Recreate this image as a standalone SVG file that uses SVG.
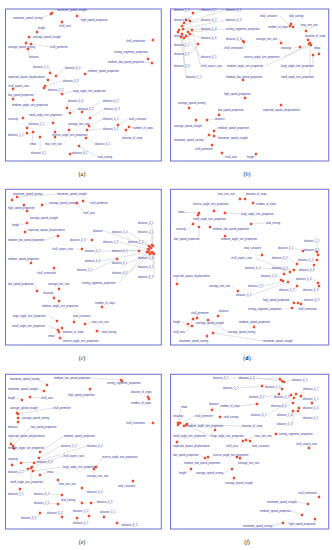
<svg xmlns="http://www.w3.org/2000/svg" width="332" height="550" viewBox="0 0 332 550">
<style>
text{font-family:"Liberation Sans",Arial,sans-serif;font-size:2.6px;fill:#2e2e8f}
circle{r:1.25px;fill:#e4311f;stroke:#f4a07a;stroke-width:.35}
.c path{fill:none;stroke:#bdbdbd;stroke-width:.45}
.frame{fill:#fff;stroke:#6d6dd4;stroke-width:1}
#captions text{font-family:"Liberation Serif",serif;font-size:6px;fill:#222;text-anchor:middle}
</style>
<rect width="332" height="550" fill="#fff"/>
<g id="frames">
<rect class="frame" x="5.5" y="9" width="155.8" height="152"/>
<rect class="frame" x="170.5" y="9" width="158.2" height="152"/>
<rect class="frame" x="5.5" y="189.3" width="155.8" height="155.7"/>
<rect class="frame" x="170.5" y="189.3" width="158.2" height="155.7"/>
<rect class="frame" x="5.5" y="374.3" width="155.8" height="154.7"/>
<rect class="frame" x="170.5" y="374.3" width="158.2" height="154.7"/>
</g>
<g id="connectors" class="c">
<path d="M52 13L56.7 10M51 14L41.7 18M77 16L80.7 20M62 22L62 24.5M37 32L37.7 28.5M29 37L32.7 37M26 43L26 45.5M31 44L49.7 47M28 49L29 55.5M153 40L149.3 41M148 59L148 53.5M152 63L144.8 62M50 73L49.5 67.5M56 76L64.7 68M85 74L87.7 71M48 80L46 77M45 86L62.7 81M13 89L13 87.3M44 88L47.7 90M13 99L13 96.3M62 94L72.7 91M33 100L33 103.7M67 108L68 102.3M82 112L102.7 101M70 113L77.7 109M90 118L103.7 109M53 123L53 116.3M23 118L20.5 119M89 126L102.7 119M118 125L128.7 119M27 128L28.7 124M69 130L69 125.3M87 130L102.7 129M129 127L132.7 128M27 133L24.5 135M55 132L55 133.7M86 138L94.7 144M126 130L126 136.7M33 132L32 142.7M55 137L55 142.7M40 137L40 151.7M70 154L71.7 153M79 146L97.7 157"/>
<path d="M193 13L190.5 10M186 20L200.7 10M190 21L225.7 10M184 23L184 21.3M182 26L200.7 20M183 29L225.7 20M179 30L200.7 29M188 32L225.7 29M178 32L178 34.7M190 34L200.7 38M243 41L243 46.7M244 42L242.5 39M182 34L182 43.7M198 44L190.5 54M186 36L200.7 57M184 38L184 64.7M192 30L200.7 66M181 37L186 75.7M290 26L280.5 16M291 24L291 17.3M291 26L288.5 27M306 31L306 26.3M281 43L279.3 39M308 40L308 37.3M300 47L293.5 48M319 54L319 49.3M309 44L283.3 57M311 45L265.3 66M313 55L313 64.7M310 43L310 75.7M245 98L245 95.3M189 108L189 104.3M219 115L219 111.3M281 105L281 108.7M207 120L214.7 119M196 120L196 124.7M214 131L217.7 128M209 135L202.7 140M214 136L217.7 138M212 145L212 147.7M222 153L224.7 157M256 154L255.3 157"/>
<path d="M12 200L13 195.3M17 197L56.7 194M24 205L24 206.7M42 205L48.7 203M83 201L89.7 203M77 203L83 211.7M27 211L30 216.7M27 223L20.3 225M25 232L27.7 230M58 236L44.8 240M150 247L104.3 231M92 240L86.5 240M149 246L128.5 232M152 245L152 224.3M153 246L153 233.3M148 249L119.5 242M151 248L144.5 242M82 249L76.6 249M149 250L101.5 251M139 251L128.5 251M148 252L101.5 261M150 253L128.5 263M152 252L152 256.7M31 263L31 260.3M54 268L54 271.7M117 259L93.5 270M150 254L128.5 273M153 253L153 265.7M154 254L154 275.7M37 291L35.3 284M59 289L59 285.3M147 252L118.8 283M54 298L54 294.3M59 301L59 304.7M102 307L102 304.3M57 321L49.8 316M74 322L74 317.3M85 324L91.7 322M58 330L48.8 326M62 328L63 330.7M97 331L101.7 332M59 332L53.7 336M60 338L62.7 341"/>
<path d="M240 199L235.9 194.5M245 199L246 195.3M253 203L255.7 204M214 211L214 205.3M199 213L183.7 212M225 213L240.7 214M198 215L198 217.7M251 224L265.7 223M193 224L188.5 229M210 227L212.7 229M199 227L199 237.7M225 236L225 237.7M317 252L317 242.3M303 251L294.5 248M318 255L318 251.3M262 255L262 249.3M290 272L255.5 258M297 264L288.5 258M317 260L314.5 260M294 270L261.5 268M284 274L284 269.3M314 265L314 268.7M177 284L177 277.3M281 280L277.5 276M238 291L232.3 286M283 281L264.5 286M318 283L312.5 279M297 286L295.3 290M319 286L319 288.7M288 282L252.5 295M294 303L291.7 300M298 303L303.7 300M292 308L284.8 309M301 304L301 307.7M197 318L197 314.3M218 316L219 312.3M188 324L181.3 322M192 326L195.7 323M193 319L186.8 332M254 327L254 323.3M208 320L227.7 332M207 336L207 339.7M213 333L262.7 341"/>
<path d="M47 385L38.7 379M121 380L90.8 378M122 381L122 381.7M44 391L38 389M90 389L90 393.7M148 397L148 393.3M149 399L149 401.7M22 400L16.3 398M30 397L40.7 398M17 413L17 409.3M18 414L52.7 408M18 418L21.7 418M18 422L18 425.7M153 423L149.3 423M13 446L30.7 427M11 444L11 437.3M40 452L63.7 436M39 458L60.7 446M34 463L86.7 446M32 467L62.7 456M96 467L102 458.3M12 465L12 460.3M21 463L36.7 462M28 469L24.5 472M33 471L62.7 467M40 475L46.7 472M94 469L94 474.7M31 468L31 480.7M58 480L59 482.7M133 481L133 484.7M20 489L20 492.7M82 488L86.7 492M62 495L50.5 494M82 503L79 500M91 503L96.7 502M58 504L50.5 503M89 516L89 512.3M104 517L104 513.3M62 517L62 514.3M40 513L37.5 518M77 518L77 521.7M117 523L121.7 525"/>
<path d="M280 379L229.5 378M282 381L255.5 378M284 382L291.7 380M262 386L239.5 388M282 389L281.5 387.5M301 396L303 390.3M279 394L265.5 397M291 395L290.5 397M296 394L302.7 399M178 423L181 408.3M212 410L212 405.3M257 404L240.6 406M293 403L287.5 406M312 403L312 406.7M180 423L180 417.3M178 425L194.7 416M220 417L223.7 417M294 398L267.5 415M299 408L293.5 415M298 411L302.7 418M293 411L293 422.7M184 426L186.7 426M187 424L241.7 426M215 430L209.8 436M186 425L210.7 436M246 440L254.7 436M177 442L177 444.7M243 441L239.8 446M250 441L252 444.7M309 448L309 445.3M205 458L200.3 455M237 457L237 456.3M208 457L208 461.7M240 458L240 461.7M191 469L187.3 473M232 469L224.7 473M234 478L234 481.7M319 497L319 494.3M308 504L297 502M302 515L291.3 511M283 523L271.7 526M315 519L315 522.7"/>
</g>
<g id="panel-a">
<g id="a1"><circle cx="52" cy="13"/><text x="57" y="10.9">maximum_speed_straight</text></g>
<g id="a2"><circle cx="51" cy="14"/><text x="13" y="18.9">maximum_speed_turning</text></g>
<g id="a3"><circle cx="77" cy="16"/><text x="81" y="20.9">high_speed_proportion</text></g>
<g id="a4"><circle cx="62" cy="22"/><text x="59" y="26.9">chull_area</text></g>
<g id="a5"><circle cx="37" cy="32"/><text x="38" y="28.9">length</text></g>
<g id="a6"><circle cx="29" cy="37"/><text x="33" y="37.9">average_speed_straight</text></g>
<g id="a7"><circle cx="26" cy="43"/><text x="8" y="47.9">average_speed_turning</text></g>
<g id="a8"><circle cx="31" cy="44"/><text x="50" y="47.9">chull_perimeter</text></g>
<g id="a9"><circle cx="28" cy="49"/><text x="29" y="57.9">distance</text></g>
<g id="a10"><circle cx="153" cy="40"/><text x="126" y="41.9">chull_orientation</text></g>
<g id="a11"><circle cx="148" cy="59"/><text x="114" y="52.9">turning_segments_proportion</text></g>
<g id="a12"><circle cx="152" cy="63"/><text x="108" y="62.9">medium_low_speed_proportion</text></g>
<g id="a13"><circle cx="50" cy="73"/><text x="33" y="67.9">distance_5_5</text></g>
<g id="a14"><circle cx="56" cy="76"/><text x="65" y="68.9">distance_6_4</text></g>
<g id="a15"><circle cx="85" cy="74"/><text x="88" y="71.9">medium_speed_proportion</text></g>
<g id="a16"><circle cx="48" cy="80"/><text x="8" y="77.9">expected_square_displacement</text></g>
<g id="a17"><circle cx="45" cy="86"/><text x="63" y="81.9">distance_3_3</text></g>
<g id="a18"><circle cx="13" cy="89"/><text x="8" y="86.9">chull_aspect_ratio</text></g>
<g id="a19"><circle cx="44" cy="88"/><text x="48" y="90.9">distance_2_2</text></g>
<g id="a20"><circle cx="13" cy="99"/><text x="8" y="95.9">low_speed_proportion</text></g>
<g id="a21"><circle cx="62" cy="94"/><text x="73" y="91.9">large_angle_turn_proportion</text></g>
<g id="a22"><circle cx="33" cy="100"/><text x="12" y="105.9">medium_angle_turn_proportion</text></g>
<g id="a23"><circle cx="67" cy="108"/><text x="68" y="101.9">distance_6_6</text></g>
<g id="a24"><circle cx="82" cy="112"/><text x="103" y="101.9">distance_6_2</text></g>
<g id="a25"><circle cx="70" cy="113"/><text x="78" y="109.9">distance_1_2</text></g>
<g id="a26"><circle cx="90" cy="118"/><text x="104" y="109.9">distance_6_3</text></g>
<g id="a27"><circle cx="53" cy="123"/><text x="29" y="115.9">small_angle_turn_proportion</text></g>
<g id="a28"><circle cx="23" cy="118"/><text x="8" y="119.9">sinuosity</text></g>
<g id="a29"><circle cx="89" cy="126"/><text x="103" y="119.9">distance_4_2</text></g>
<g id="a30"><circle cx="118" cy="125"/><text x="129" y="119.9">total_curvature</text></g>
<g id="a31"><circle cx="27" cy="128"/><text x="29" y="124.9">distance_2_1</text></g>
<g id="a32"><circle cx="69" cy="130"/><text x="68" y="124.9">average_turn_rate</text></g>
<g id="a33"><circle cx="87" cy="130"/><text x="103" y="129.9">distance_5_2</text></g>
<g id="a34"><circle cx="129" cy="127"/><text x="133" y="128.9">number_of_steps</text></g>
<g id="a35"><circle cx="27" cy="133"/><text x="8" y="135.9">distance_1_1</text></g>
<g id="a36"><circle cx="55" cy="132"/><text x="52" y="135.9">reverse_angle_turn_proportion</text></g>
<g id="a37"><circle cx="86" cy="138"/><text x="95" y="144.9">distance_4_1</text></g>
<g id="a38"><circle cx="126" cy="130"/><text x="122" y="138.9">duration_of_steps</text></g>
<g id="a39"><circle cx="33" cy="132"/><text x="30" y="144.9">emax</text></g>
<g id="a40"><circle cx="55" cy="137"/><text x="45" y="144.9">max_turn_rate</text></g>
<g id="a41"><circle cx="40" cy="137"/><text x="31" y="153.9">distance_3_1</text></g>
<g id="a42"><circle cx="70" cy="154"/><text x="72" y="153.9">distance_6_1</text></g>
<g id="a43"><circle cx="79" cy="146"/><text x="98" y="157.9">total_turning</text></g>
</g>
<g id="panel-b">
<g id="b1"><circle cx="193" cy="13"/><text x="174" y="10.9">distance_5_1</text></g>
<g id="b2"><circle cx="186" cy="20"/><text x="201" y="10.9">distance_6_1</text></g>
<g id="b3"><circle cx="190" cy="21"/><text x="226" y="10.9">distance_4_1</text></g>
<g id="b4"><circle cx="184" cy="23"/><text x="174" y="20.9">distance_5_4</text></g>
<g id="b5"><circle cx="182" cy="26"/><text x="201" y="20.9">distance_6_2</text></g>
<g id="b6"><circle cx="183" cy="29"/><text x="226" y="20.9">distance_4_3</text></g>
<g id="b7"><circle cx="179" cy="30"/><text x="201" y="29.9">distance_5_3</text></g>
<g id="b8"><circle cx="188" cy="32"/><text x="226" y="29.9">turning_segments_proportion</text></g>
<g id="b9"><circle cx="178" cy="32"/><text x="174" y="36.9">distance_4_2</text></g>
<g id="b10"><circle cx="190" cy="34"/><text x="201" y="38.9">distance_6_6</text></g>
<g id="b11"><circle cx="243" cy="41"/><text x="224" y="48.9">chull_orientation</text></g>
<g id="b12"><circle cx="244" cy="42"/><text x="226" y="39.9">distance_6_4</text></g>
<g id="b13"><circle cx="182" cy="34"/><text x="174" y="45.9">distance_2_1</text></g>
<g id="b14"><circle cx="198" cy="44"/><text x="174" y="54.9">distance_3_2</text></g>
<g id="b15"><circle cx="186" cy="36"/><text x="201" y="57.9">distance_6_5</text></g>
<g id="b16"><circle cx="184" cy="38"/><text x="174" y="66.9">distance_3_3</text></g>
<g id="b17"><circle cx="192" cy="30"/><text x="201" y="66.9">chull_aspect_ratio</text></g>
<g id="b18"><circle cx="181" cy="37"/><text x="186" y="77.9">distance_1_1</text></g>
<g id="b19"><circle cx="290" cy="26"/><text x="260" y="16.9">total_curvature</text></g>
<g id="b20"><circle cx="291" cy="24"/><text x="289" y="16.9">total_turning</text></g>
<g id="b21"><circle cx="293" cy="27"/><text x="268" y="27.9">number_of_steps</text></g>
<g id="b22"><circle cx="306" cy="31"/><text x="301" y="25.9">max_turn_rate</text></g>
<g id="b23"><circle cx="281" cy="43"/><text x="256" y="39.9">average_turn_rate</text></g>
<g id="b24"><circle cx="308" cy="40"/><text x="305" y="36.9">duration_of_steps</text></g>
<g id="b25"><circle cx="300" cy="47"/><text x="281" y="48.9">sinuosity</text></g>
<g id="b26"><circle cx="319" cy="54"/><text x="314" y="48.9">emax</text></g>
<g id="b27"><circle cx="309" cy="44"/><text x="244" y="57.9">reverse_angle_turn_proportion</text></g>
<g id="b28"><circle cx="311" cy="45"/><text x="227" y="66.9">medium_angle_turn_proportion</text></g>
<g id="b29"><circle cx="313" cy="55"/><text x="281" y="66.9">large_angle_turn_proportion</text></g>
<g id="b30"><circle cx="310" cy="43"/><text x="281" y="77.9">small_angle_turn_proportion</text></g>
<g id="b31"><circle cx="243" cy="80"/><text x="226" y="77.9">medium_low_speed_proportion</text></g>
<g id="b32"><circle cx="245" cy="98"/><text x="224" y="94.9">high_speed_proportion</text></g>
<g id="b33"><circle cx="189" cy="108"/><text x="178" y="103.9">average_speed_turning</text></g>
<g id="b34"><circle cx="219" cy="115"/><text x="218" y="110.9">low_speed_proportion</text></g>
<g id="b35"><circle cx="281" cy="105"/><text x="263" y="110.9">expected_square_displacement</text></g>
<g id="b36"><circle cx="207" cy="120"/><text x="215" y="119.9">distance</text></g>
<g id="b37"><circle cx="196" cy="120"/><text x="174" y="126.9">average_speed_straight</text></g>
<g id="b38"><circle cx="214" cy="131"/><text x="218" y="128.9">medium_speed_proportion</text></g>
<g id="b39"><circle cx="209" cy="135"/><text x="174" y="140.9">maximum_speed_turning</text></g>
<g id="b40"><circle cx="214" cy="136"/><text x="218" y="138.9">maximum_speed_straight</text></g>
<g id="b41"><circle cx="212" cy="145"/><text x="195" y="149.9">chull_perimeter</text></g>
<g id="b42"><circle cx="222" cy="153"/><text x="225" y="157.9">chull_area</text></g>
<g id="b43"><circle cx="256" cy="154"/><text x="247" y="157.9">length</text></g>
</g>
<g id="panel-c">
<g id="c1"><circle cx="12" cy="200"/><text x="13" y="194.9">maximum_speed_turning</text></g>
<g id="c2"><circle cx="17" cy="197"/><text x="57" y="194.9">maximum_speed_straight</text></g>
<g id="c3"><circle cx="24" cy="205"/><text x="8" y="208.9">high_speed_proportion</text></g>
<g id="c4"><circle cx="42" cy="205"/><text x="49" y="203.9">average_speed_turning</text></g>
<g id="c5"><circle cx="83" cy="201"/><text x="90" y="203.9">chull_perimeter</text></g>
<g id="c6"><circle cx="77" cy="203"/><text x="83" y="213.9">chull_area</text></g>
<g id="c7"><circle cx="27" cy="211"/><text x="30" y="218.9">average_speed_straight</text></g>
<g id="c8"><circle cx="27" cy="223"/><text x="12" y="225.9">length</text></g>
<g id="c9"><circle cx="25" cy="232"/><text x="28" y="230.9">expected_square_displacement</text></g>
<g id="c10"><circle cx="58" cy="236"/><text x="8" y="240.9">medium_low_speed_proportion</text></g>
<g id="c11"><circle cx="150" cy="247"/><text x="93" y="231.9">distance</text></g>
<g id="c12"><circle cx="92" cy="240"/><text x="70" y="240.9">distance_3_3</text></g>
<g id="c13"><circle cx="149" cy="246"/><text x="112" y="232.9">distance_5_4</text></g>
<g id="c14"><circle cx="152" cy="245"/><text x="138" y="223.9">distance_3_1</text></g>
<g id="c15"><circle cx="153" cy="246"/><text x="138" y="232.9">distance_2_1</text></g>
<g id="c16"><circle cx="148" cy="249"/><text x="103" y="242.9">distance_5_2</text></g>
<g id="c17"><circle cx="151" cy="248"/><text x="128" y="242.9">distance_2_2</text></g>
<g id="c18"><circle cx="82" cy="249"/><text x="52" y="249.9">chull_aspect_ratio</text></g>
<g id="c19"><circle cx="149" cy="250"/><text x="85" y="251.9">distance_3_2</text></g>
<g id="c20"><circle cx="139" cy="251"/><text x="112" y="251.9">distance_6_5</text></g>
<g id="c21"><circle cx="148" cy="252"/><text x="85" y="261.9">distance_6_6</text></g>
<g id="c22"><circle cx="150" cy="253"/><text x="112" y="263.9">distance_6_1</text></g>
<g id="c23"><circle cx="152" cy="252"/><text x="138" y="258.9">distance_4_4</text></g>
<g id="c24"><circle cx="31" cy="263"/><text x="8" y="259.9">medium_speed_proportion</text></g>
<g id="c25"><circle cx="54" cy="268"/><text x="37" y="273.9">chull_orientation</text></g>
<g id="c26"><circle cx="117" cy="259"/><text x="77" y="270.9">distance_1_1</text></g>
<g id="c27"><circle cx="150" cy="254"/><text x="112" y="273.9">distance_6_2</text></g>
<g id="c28"><circle cx="153" cy="253"/><text x="138" y="267.9">distance_4_1</text></g>
<g id="c29"><circle cx="154" cy="254"/><text x="138" y="277.9">distance_6_3</text></g>
<g id="c30"><circle cx="37" cy="291"/><text x="8" y="284.9">low_speed_proportion</text></g>
<g id="c31"><circle cx="59" cy="289"/><text x="48" y="284.9">average_turn_rate</text></g>
<g id="c32"><circle cx="147" cy="252"/><text x="82" y="283.9">turning_segments_proportion</text></g>
<g id="c33"><circle cx="54" cy="298"/><text x="43" y="293.9">sinuosity</text></g>
<g id="c34"><circle cx="59" cy="301"/><text x="42" y="306.9">medium_angle_turn_proportion</text></g>
<g id="c35"><circle cx="102" cy="307"/><text x="95" y="303.9">number_of_steps</text></g>
<g id="c36"><circle cx="57" cy="321"/><text x="13" y="316.9">large_angle_turn_proportion</text></g>
<g id="c37"><circle cx="74" cy="322"/><text x="73" y="316.9">total_curvature</text></g>
<g id="c38"><circle cx="85" cy="324"/><text x="92" y="322.9">max_turn_rate</text></g>
<g id="c39"><circle cx="58" cy="330"/><text x="12" y="326.9">small_angle_turn_proportion</text></g>
<g id="c40"><circle cx="62" cy="328"/><text x="63" y="332.9">duration_of_steps</text></g>
<g id="c41"><circle cx="97" cy="331"/><text x="102" y="332.9">total_turning</text></g>
<g id="c42"><circle cx="59" cy="332"/><text x="48" y="336.9">emax</text></g>
<g id="c43"><circle cx="60" cy="338"/><text x="63" y="341.9">reverse_angle_turn_proportion</text></g>
</g>
<g id="panel-d">
<g id="d1"><circle cx="240" cy="199"/><text x="218" y="194.9">max_turn_rate</text></g>
<g id="d2"><circle cx="245" cy="199"/><text x="246" y="194.9">duration_of_steps</text></g>
<g id="d3"><circle cx="253" cy="203"/><text x="256" y="204.9">number_of_steps</text></g>
<g id="d4"><circle cx="214" cy="211"/><text x="193" y="204.9">reverse_angle_turn_proportion</text></g>
<g id="d5"><circle cx="199" cy="213"/><text x="178" y="212.9">emax</text></g>
<g id="d6"><circle cx="225" cy="213"/><text x="241" y="214.9">large_angle_turn_proportion</text></g>
<g id="d7"><circle cx="198" cy="215"/><text x="193" y="219.9">small_angle_turn_proportion</text></g>
<g id="d8"><circle cx="251" cy="224"/><text x="266" y="223.9">total_turning</text></g>
<g id="d9"><circle cx="193" cy="224"/><text x="176" y="229.9">sinuosity</text></g>
<g id="d10"><circle cx="210" cy="227"/><text x="213" y="229.9">medium_low_speed_proportion</text></g>
<g id="d11"><circle cx="199" cy="227"/><text x="174" y="239.9">low_speed_proportion</text></g>
<g id="d12"><circle cx="225" cy="236"/><text x="221" y="239.9">medium_angle_turn_proportion</text></g>
<g id="d13"><circle cx="317" cy="252"/><text x="304" y="241.9">distance_2_1</text></g>
<g id="d14"><circle cx="303" cy="251"/><text x="278" y="248.9">distance_3_1</text></g>
<g id="d15"><circle cx="318" cy="255"/><text x="304" y="250.9">distance_4_1</text></g>
<g id="d16"><circle cx="262" cy="255"/><text x="244" y="248.9">total_curvature</text></g>
<g id="d17"><circle cx="290" cy="272"/><text x="231" y="258.9">chull_aspect_ratio</text></g>
<g id="d18"><circle cx="297" cy="264"/><text x="272" y="258.9">distance_6_2</text></g>
<g id="d19"><circle cx="317" cy="260"/><text x="298" y="260.9">distance_5_5</text></g>
<g id="d20"><circle cx="294" cy="270"/><text x="245" y="268.9">distance_4_4</text></g>
<g id="d21"><circle cx="284" cy="274"/><text x="272" y="268.9">distance_5_3</text></g>
<g id="d22"><circle cx="314" cy="265"/><text x="299" y="270.9">distance_6_6</text></g>
<g id="d23"><circle cx="177" cy="284"/><text x="173" y="276.9">expected_square_displacement</text></g>
<g id="d24"><circle cx="281" cy="280"/><text x="261" y="276.9">distance_5_6</text></g>
<g id="d25"><circle cx="238" cy="291"/><text x="209" y="286.9">average_turn_rate</text></g>
<g id="d26"><circle cx="283" cy="281"/><text x="248" y="286.9">distance_1_1</text></g>
<g id="d27"><circle cx="318" cy="283"/><text x="296" y="279.9">distance_6_4</text></g>
<g id="d28"><circle cx="297" cy="286"/><text x="279" y="290.9">distance_5_2</text></g>
<g id="d29"><circle cx="319" cy="286"/><text x="303" y="290.9">distance_6_3</text></g>
<g id="d30"><circle cx="288" cy="282"/><text x="236" y="295.9">distance_3_2</text></g>
<g id="d31"><circle cx="294" cy="303"/><text x="263" y="300.9">high_speed_proportion</text></g>
<g id="d32"><circle cx="298" cy="303"/><text x="304" y="300.9">distance_6_5</text></g>
<g id="d33"><circle cx="292" cy="308"/><text x="248" y="309.9">turning_segments_proportion</text></g>
<g id="d34"><circle cx="301" cy="304"/><text x="298" y="309.9">chull_orientation</text></g>
<g id="d35"><circle cx="197" cy="318"/><text x="191" y="313.9">chull_perimeter</text></g>
<g id="d36"><circle cx="218" cy="316"/><text x="219" y="311.9">distance</text></g>
<g id="d37"><circle cx="188" cy="324"/><text x="173" y="322.9">length</text></g>
<g id="d38"><circle cx="192" cy="326"/><text x="196" y="323.9">average_speed_straight</text></g>
<g id="d39"><circle cx="193" cy="319"/><text x="173" y="332.9">chull_area</text></g>
<g id="d40"><circle cx="254" cy="327"/><text x="239" y="322.9">medium_speed_proportion</text></g>
<g id="d41"><circle cx="208" cy="320"/><text x="228" y="332.9">average_speed_turning</text></g>
<g id="d42"><circle cx="207" cy="336"/><text x="179" y="341.9">maximum_speed_turning</text></g>
<g id="d43"><circle cx="213" cy="333"/><text x="263" y="341.9">maximum_speed_straight</text></g>
</g>
<g id="panel-e">
<g id="e1"><circle cx="47" cy="385"/><text x="10" y="379.9">maximum_speed_turning</text></g>
<g id="e2"><circle cx="121" cy="380"/><text x="54" y="378.9">medium_low_speed_proportion</text></g>
<g id="e3"><circle cx="122" cy="381"/><text x="107" y="383.9">turning_segments_proportion</text></g>
<g id="e4"><circle cx="44" cy="391"/><text x="8" y="389.9">maximum_speed_straight</text></g>
<g id="e5"><circle cx="90" cy="389"/><text x="68" y="395.9">high_speed_proportion</text></g>
<g id="e6"><circle cx="148" cy="397"/><text x="131" y="392.9">duration_of_steps</text></g>
<g id="e7"><circle cx="149" cy="399"/><text x="131" y="403.9">number_of_steps</text></g>
<g id="e8"><circle cx="22" cy="400"/><text x="8" y="398.9">length</text></g>
<g id="e9"><circle cx="30" cy="397"/><text x="41" y="398.9">chull_area</text></g>
<g id="e10"><circle cx="17" cy="413"/><text x="10" y="408.9">average_speed_straight</text></g>
<g id="e11"><circle cx="18" cy="414"/><text x="53" y="408.9">chull_perimeter</text></g>
<g id="e12"><circle cx="18" cy="418"/><text x="22" y="418.9">average_speed_turning</text></g>
<g id="e13"><circle cx="18" cy="422"/><text x="8" y="427.9">distance</text></g>
<g id="e14"><circle cx="153" cy="423"/><text x="126" y="423.9">chull_orientation</text></g>
<g id="e15"><circle cx="13" cy="446"/><text x="31" y="427.9">low_speed_proportion</text></g>
<g id="e16"><circle cx="11" cy="444"/><text x="8" y="436.9">expected_square_displacement</text></g>
<g id="e17"><circle cx="40" cy="452"/><text x="64" y="436.9">medium_speed_proportion</text></g>
<g id="e18"><circle cx="14" cy="448.5"/><text x="8" y="448.9">medium_angle_turn_proportion</text></g>
<g id="e19"><circle cx="39" cy="458"/><text x="61" y="446.9">distance_5_5</text></g>
<g id="e20"><circle cx="34" cy="463"/><text x="87" y="446.9">distance_4_4</text></g>
<g id="e21"><circle cx="32" cy="467"/><text x="63" y="456.9">chull_aspect_ratio</text></g>
<g id="e22"><circle cx="96" cy="467"/><text x="102" y="457.9">reverse_angle_turn_proportion</text></g>
<g id="e23"><circle cx="12" cy="465"/><text x="8" y="459.9">sinuosity</text></g>
<g id="e24"><circle cx="21" cy="463"/><text x="37" y="462.9">distance_3_3</text></g>
<g id="e25"><circle cx="28" cy="469"/><text x="8" y="472.9">distance_2_2</text></g>
<g id="e26"><circle cx="33" cy="471"/><text x="63" y="467.9">large_angle_turn_proportion</text></g>
<g id="e27"><circle cx="40" cy="475"/><text x="47" y="472.9">emax</text></g>
<g id="e28"><circle cx="94" cy="469"/><text x="87" y="476.9">average_turn_rate</text></g>
<g id="e29"><circle cx="31" cy="468"/><text x="10" y="482.9">small_angle_turn_proportion</text></g>
<g id="e30"><circle cx="58" cy="480"/><text x="59" y="484.9">max_turn_rate</text></g>
<g id="e31"><circle cx="133" cy="481"/><text x="118" y="486.9">total_curvature</text></g>
<g id="e32"><circle cx="20" cy="489"/><text x="8" y="494.9">distance_1_1</text></g>
<g id="e33"><circle cx="82" cy="488"/><text x="87" y="492.9">distance_6_4</text></g>
<g id="e34"><circle cx="62" cy="495"/><text x="34" y="494.9">distance_6_3</text></g>
<g id="e35"><circle cx="82" cy="503"/><text x="61" y="500.9">total_turning</text></g>
<g id="e36"><circle cx="91" cy="503"/><text x="97" y="502.9">distance_6_5</text></g>
<g id="e37"><circle cx="58" cy="504"/><text x="34" y="503.9">distance_2_1</text></g>
<g id="e38"><circle cx="89" cy="516"/><text x="73" y="511.9">distance_5_2</text></g>
<g id="e39"><circle cx="104" cy="517"/><text x="100" y="512.9">distance_5_1</text></g>
<g id="e40"><circle cx="62" cy="517"/><text x="47" y="513.9">distance_3_2</text></g>
<g id="e41"><circle cx="40" cy="513"/><text x="21" y="518.9">distance_3_1</text></g>
<g id="e42"><circle cx="77" cy="518"/><text x="73" y="523.9">distance_6_1</text></g>
<g id="e43"><circle cx="117" cy="523"/><text x="122" y="525.9">distance_6_2</text></g>
</g>
<g id="panel-f">
<g id="f1"><circle cx="280" cy="379"/><text x="213" y="378.9">distance_3_1</text></g>
<g id="f2"><circle cx="282" cy="381"/><text x="239" y="378.9">distance_2_2</text></g>
<g id="f3"><circle cx="284" cy="382"/><text x="292" y="380.9">distance_4_5</text></g>
<g id="f4"><circle cx="262" cy="386"/><text x="223" y="388.9">distance_1_1</text></g>
<g id="f5"><circle cx="282" cy="389"/><text x="265" y="387.9">distance_5_5</text></g>
<g id="f6"><circle cx="301" cy="396"/><text x="303" y="389.9">distance_4_2</text></g>
<g id="f7"><circle cx="279" cy="394"/><text x="249" y="397.9">distance_3_2</text></g>
<g id="f8"><circle cx="291" cy="395"/><text x="274" y="397.9">distance_3_3</text></g>
<g id="f9"><circle cx="296" cy="394"/><text x="303" y="399.9">distance_5_2</text></g>
<g id="f10"><circle cx="178" cy="423"/><text x="181" y="407.9">emax</text></g>
<g id="f11"><circle cx="212" cy="410"/><text x="209" y="404.9">distance</text></g>
<g id="f12"><circle cx="257" cy="404"/><text x="220" y="406.9">number_of_steps</text></g>
<g id="f13"><circle cx="293" cy="403"/><text x="271" y="406.9">distance_6_4</text></g>
<g id="f14"><circle cx="312" cy="403"/><text x="303" y="408.9">distance_5_4</text></g>
<g id="f15"><circle cx="180" cy="423"/><text x="173" y="416.9">sinuosity</text></g>
<g id="f16"><circle cx="178" cy="425"/><text x="195" y="416.9">chull_perimeter</text></g>
<g id="f17"><circle cx="220" cy="417"/><text x="224" y="417.9">total_turning</text></g>
<g id="f18"><circle cx="294" cy="398"/><text x="251" y="415.9">distance_6_1</text></g>
<g id="f19"><circle cx="299" cy="408"/><text x="277" y="415.9">distance_5_6</text></g>
<g id="f20"><circle cx="298" cy="411"/><text x="303" y="418.9">distance_5_1</text></g>
<g id="f21"><circle cx="293" cy="411"/><text x="277" y="424.9">distance_5_3</text></g>
<g id="f22"><circle cx="184" cy="426"/><text x="187" y="426.9">medium_angle_turn_proportion</text></g>
<g id="f23"><circle cx="187" cy="424"/><text x="242" y="426.9">duration_of_steps</text></g>
<g id="f24"><circle cx="215" cy="430"/><text x="173" y="436.9">small_angle_turn_proportion</text></g>
<g id="f25"><circle cx="186" cy="425"/><text x="211" y="436.9">large_angle_turn_proportion</text></g>
<g id="f26"><circle cx="246" cy="440"/><text x="255" y="436.9">max_turn_rate</text></g>
<g id="f27"><circle cx="276" cy="434"/><text x="279" y="434.9">turning_segments_proportion</text></g>
<g id="f28"><circle cx="177" cy="442"/><text x="173" y="446.9">expected_square_displacement</text></g>
<g id="f29"><circle cx="243" cy="441"/><text x="226" y="446.9">chull_area</text></g>
<g id="f30"><circle cx="250" cy="441"/><text x="252" y="446.9">total_curvature</text></g>
<g id="f31"><circle cx="309" cy="448"/><text x="296" y="444.9">chull_aspect_ratio</text></g>
<g id="f32"><circle cx="205" cy="458"/><text x="173" y="455.9">low_speed_proportion</text></g>
<g id="f33"><circle cx="237" cy="457"/><text x="213" y="455.9">reverse_angle_turn_proportion</text></g>
<g id="f34"><circle cx="208" cy="457"/><text x="184" y="463.9">medium_low_speed_proportion</text></g>
<g id="f35"><circle cx="240" cy="458"/><text x="238" y="463.9">average_turn_rate</text></g>
<g id="f36"><circle cx="191" cy="469"/><text x="179" y="473.9">length</text></g>
<g id="f37"><circle cx="232" cy="469"/><text x="196" y="473.9">average_speed_turning</text></g>
<g id="f38"><circle cx="234" cy="478"/><text x="225" y="483.9">average_speed_straight</text></g>
<g id="f39"><circle cx="319" cy="497"/><text x="298" y="493.9">chull_orientation</text></g>
<g id="f40"><circle cx="308" cy="504"/><text x="267" y="502.9">maximum_speed_straight</text></g>
<g id="f41"><circle cx="302" cy="515"/><text x="260" y="511.9">medium_speed_proportion</text></g>
<g id="f42"><circle cx="283" cy="523"/><text x="243" y="526.9">maximum_speed_turning</text></g>
<g id="f43"><circle cx="315" cy="519"/><text x="289" y="524.9">high_speed_proportion</text></g>
</g>
<g id="captions">
<text x="82" y="176">(<tspan font-style="italic">a</tspan>)</text>
<text x="247" y="176">(b)</text>
<text x="82" y="360">(<tspan font-style="italic">c</tspan>)</text>
<text x="247" y="360">(<tspan font-weight="bold">d</tspan>)</text>
<text x="82" y="544">(<tspan font-style="italic">e</tspan>)</text>
<text x="247" y="544">(<tspan font-style="italic">f</tspan>)</text>
</g>
</svg>
